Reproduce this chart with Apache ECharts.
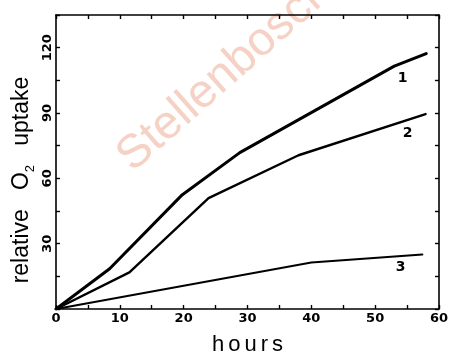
<!DOCTYPE html>
<html>
<head>
<meta charset="utf-8">
<script src="https://cdn.jsdelivr.net/npm/echarts@6/dist/echarts.min.js"></script>
<style>
  html, body { margin: 0; padding: 0; background: #fff; }
  #chart { width: 451px; height: 361px; }
</style>
</head>
<body>
<div id="chart"></div>
<script>
// O2 uptake curves (hours, relative uptake)
const hours1 = [0, 8.4, 19.8, 28.8, 53, 58];
const uptake1 = [0, 18.5, 52.5, 71.8, 111.5, 117.3];
const hours2 = [0, 11.5, 23.9, 38, 57.9];
const uptake2 = [0, 16.8, 50.9, 70.6, 89.5];
const hours3 = [0, 40, 57.4];
const uptake3 = [0, 21.4, 25];

// curve numbers and where they sit (data coordinates)
const curveNames = ['1', '2', '3'];
const labelAnchors = [[54.3, 105.7], [55.1, 80.7], [54.0, 19.3]];

// labelled ticks
const xTickLabels = [0, 10, 20, 30, 40, 50, 60];
const yTickLabels = [30, 60, 90, 120];

const pair = (xs, ys) => xs.map((x, i) => [x, ys[i]]);

// letter-spaced rich text for an axis title
function spaced(word) {
  return word.split('').map(ch => '{c|' + ch + '}').join('');
}

const ink = '#000';
const tickFont = { fontFamily: 'DejaVu Sans', fontWeight: 'bold', fontSize: 13, color: ink };

const chart = echarts.init(document.getElementById('chart'), null, { renderer: 'canvas' });

function frameAxis(extra) {
  return Object.assign({
    type: 'value',
    splitLine: { show: false },
    axisLine: { show: true, onZero: false, lineStyle: { color: ink, width: 1.6 } },
    axisTick: { show: true, inside: true, length: 4, lineStyle: { color: ink, width: 1.4 } }
  }, extra);
}

const curves = [
  { xs: hours1, ys: uptake1, width: 3.0 },
  { xs: hours2, ys: uptake2, width: 2.4 },
  { xs: hours3, ys: uptake3, width: 2.0 }
];

chart.setOption({
  animation: false,
  backgroundColor: '#fff',
  grid: { left: 56, right: 6, top: 15, bottom: 48 },
  xAxis: [
    frameAxis({
      position: 'bottom', min: 0, max: 60, interval: 5,
      axisLabel: Object.assign({
        margin: 3,
        formatter: v => (xTickLabels.indexOf(v) >= 0 ? String(v) : '')
      }, tickFont),
      name: spaced('hours'),
      nameLocation: 'middle',
      nameGap: 25,
      nameTextStyle: {
        rich: { c: { fontFamily: 'Liberation Sans', fontSize: 22, color: ink, padding: [0, 2] } }
      }
    }),
    frameAxis({ position: 'top', min: 0, max: 60, interval: 5, axisLabel: { show: false } })
  ],
  yAxis: [
    frameAxis({
      position: 'left', min: 0, max: 135, interval: 15,
      axisLabel: Object.assign({
        rotate: 90,
        margin: 2,
        formatter: v => (yTickLabels.indexOf(v) >= 0 ? String(v) : '')
      }, tickFont)
    }),
    frameAxis({ position: 'right', min: 0, max: 135, interval: 15, axisLabel: { show: false } })
  ],
  graphic: [
    {
      // faint diagonal watermark behind the plot
      type: 'text', z: -10, silent: true,
      x: 225, y: 74, rotation: 41.5 * Math.PI / 180,
      style: {
        text: 'Stellenbosch', fontFamily: 'Liberation Sans', fontSize: 47,
        fill: '#f5d2c5', align: 'center', verticalAlign: 'middle'
      }
    },
    {
      // y-axis title with subscript 2
      type: 'text', silent: true,
      x: 22, y: 180, rotation: Math.PI / 2,
      style: {
        text: '{a|relative   O}{s|2}{a|   uptake}',
        align: 'center', verticalAlign: 'middle',
        rich: {
          a: { fontFamily: 'Liberation Sans', fontSize: 23, lineHeight: 30, fill: ink, color: ink },
          s: { fontFamily: 'Liberation Sans', fontSize: 13, lineHeight: 13, verticalAlign: 'bottom', fill: ink, color: ink }
        }
      }
    }
  ],
  series: curves.map((c, i) => ({
    type: 'line',
    xAxisIndex: 0,
    yAxisIndex: 0,
    data: pair(c.xs, c.ys),
    symbol: 'none',
    lineStyle: { color: ink, width: c.width, cap: 'round', join: 'round' },
    markPoint: {
      symbol: 'circle', symbolSize: 0,
      data: [{ coord: labelAnchors[i], value: curveNames[i] }],
      label: {
        show: true, position: 'inside', formatter: curveNames[i],
        fontFamily: 'DejaVu Sans', fontWeight: 'bold', fontSize: 14, color: ink
      }
    }
  }))
});
</script>
</body>
</html>
